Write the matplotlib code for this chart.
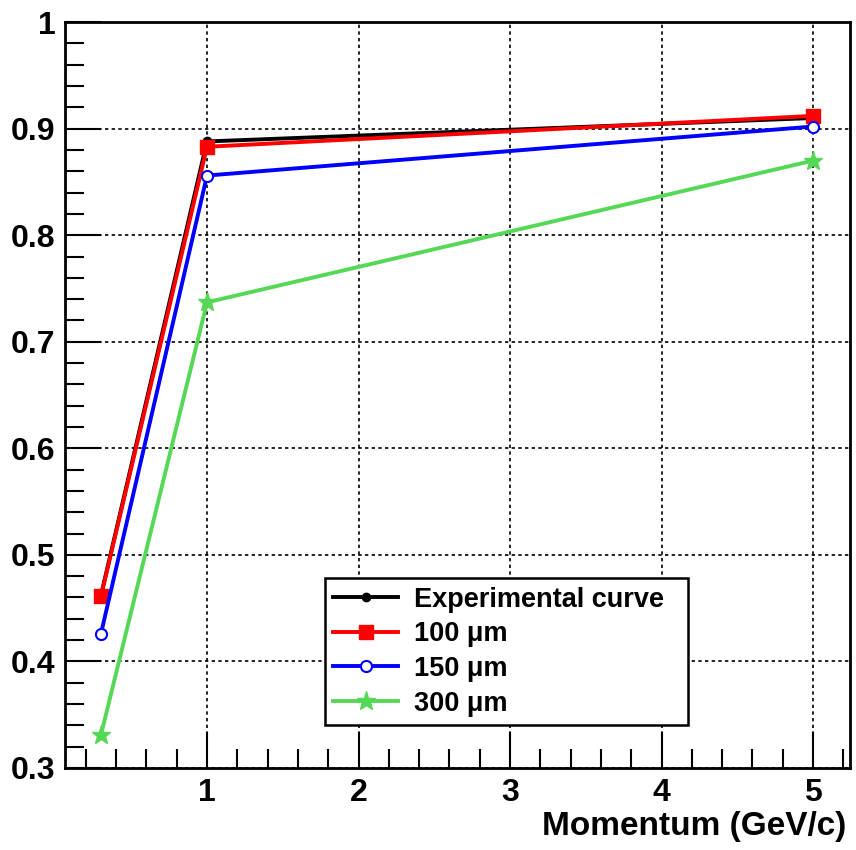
import matplotlib
matplotlib.use("Agg")
import matplotlib.pyplot as plt
from matplotlib.ticker import MultipleLocator, FuncFormatter

# Data
momentum = [0.3, 1.0, 5.0]
experimental = [0.462, 0.888, 0.910]
um100 = [0.461, 0.883, 0.912]
um150 = [0.426, 0.856, 0.902]
um300 = [0.331, 0.737, 0.870]

labels = ["Experimental curve", "100 \u03bcm", "150 \u03bcm", "300 \u03bcm"]

plt.rcParams['font.family'] = ['Liberation Sans', 'DejaVu Sans']
plt.rcParams['font.weight'] = 'bold'

fig = plt.figure(figsize=(8.56, 8.5), dpi=100)
ax = fig.add_axes([0.076, 0.0965, 0.917, 0.8775])

green = '#55d855'
ax.plot(momentum, experimental, color='black', lw=2.8, marker='o', ms=6, label=labels[0], zorder=3)
ax.plot(momentum, um100, color='red', lw=2.8, marker='s', ms=10, label=labels[1], zorder=4)
ax.plot(momentum, um150, color='blue', lw=2.8, marker='o', ms=8, mfc='white', mew=1.5, label=labels[2], zorder=5)
ax.plot(momentum, um300, color=green, lw=2.8, marker='*', ms=14, label=labels[3], zorder=6)

ax.set_xlim(0.063, 5.244)
ax.set_ylim(0.3, 1.0)

ax.xaxis.set_major_locator(MultipleLocator(1))
ax.xaxis.set_minor_locator(MultipleLocator(0.2))
ax.yaxis.set_major_locator(MultipleLocator(0.1))
ax.yaxis.set_minor_locator(MultipleLocator(0.02))
ax.xaxis.set_major_formatter(FuncFormatter(lambda v, p: '%g' % round(v, 2) if v >= 0.5 else ''))
ax.yaxis.set_major_formatter(FuncFormatter(lambda v, p: '%g' % round(v, 2)))

ax.tick_params(which='both', direction='in', top=False, right=False, width=1.5)
ax.tick_params(which='major', length=26, labelsize=23, pad=7)
ax.tick_params(which='minor', length=14)
for lab in ax.get_xticklabels() + ax.get_yticklabels():
    lab.set_fontweight('bold')

ax.grid(True, which='major', color='black', linestyle=(0, (2, 2)), lw=1.2)
for s in ax.spines.values():
    s.set_linewidth(2)

ax.set_xlabel("Momentum (GeV/c)", fontsize=24, fontweight='bold')
ax.xaxis.set_label_coords(0.995, -0.058)
ax.xaxis.label.set_horizontalalignment('right')
ax.xaxis.label.set_verticalalignment('top')

# legend box fixed in width, like the reference
leg = ax.legend(loc='lower left', bbox_to_anchor=(0.331, 0.058, 0.463, 0.187), mode='expand',
                borderaxespad=0, fontsize=19.5, frameon=True, fancybox=False, edgecolor='black',
                handlelength=2.4, handletextpad=0.6, labelspacing=0.32, borderpad=0.3)
leg.get_frame().set_linewidth(1.8)
leg.get_frame().set_alpha(1)
for t in leg.get_texts():
    t.set_fontweight('bold')

fig.savefig("out.png", dpi=100)
